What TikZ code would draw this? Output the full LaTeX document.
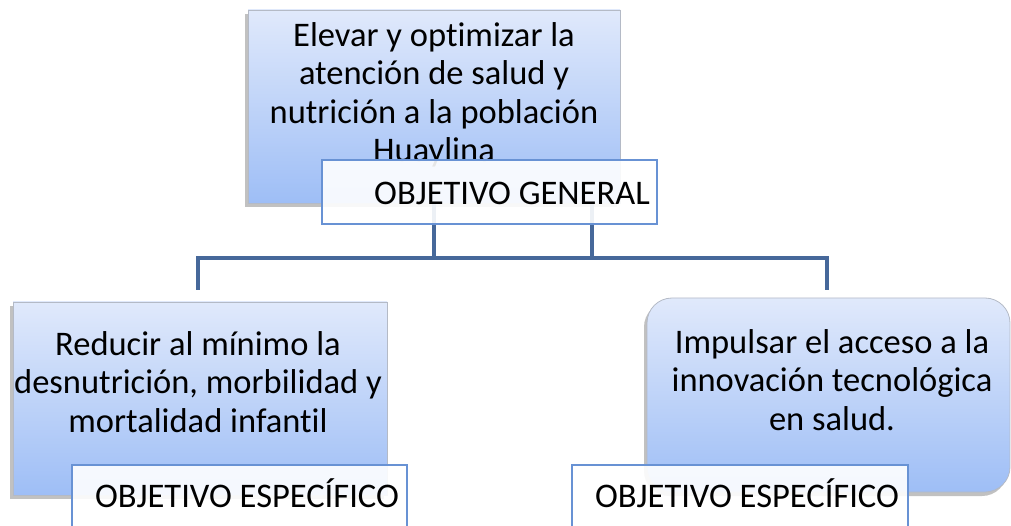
\documentclass[tikz,border=0pt]{standalone}
\usepackage{fontspec}
\setmainfont{Carlito}[Ligatures=NoCommon]
\usetikzlibrary{shadows,calc}
\definecolor{conncol}{RGB}{70,104,154}
\definecolor{gtop}{RGB}{224,233,251}
\definecolor{gbot}{RGB}{158,190,246}
\definecolor{gborder}{RGB}{180,186,198}
\definecolor{oeborder}{RGB}{104,146,212}
\tikzset{
  gbox/.style={draw=gborder, line width=0.8pt, top color=gtop, bottom color=gbot,
    minimum width=#1, inner sep=0pt,
    drop shadow={shadow xshift=-3pt, shadow yshift=-4pt, opacity=0.35, fill=black!70}},
  lbox/.style={draw=oeborder, line width=1.2pt, fill=white, fill opacity=0.9,
    inner sep=0pt, minimum width=#1, minimum height=64pt},
  conn/.style={draw=conncol, line width=4.5pt, line join=miter},
  txt/.style={font=\fontsize{34.5}{38.5}\selectfont, align=center, inner sep=0pt, anchor=base},
}
\begin{document}
\begin{tikzpicture}[x=1pt,y=-1pt]
\useasboundingbox (0,0) rectangle (1011,526);
% connectors
\coordinate (busL) at (198,258);
\coordinate (busR) at (827,258);
\coordinate (dL) at (198,290);
\coordinate (dR) at (827,290);
\node[gbox=372pt, minimum height=193pt] (top) at (434,106.5) {};
\draw[conn] (top.south) -- (top.south |- busL);
\draw[conn] ($(top.south)+(158,0)$) -- ($(top.south |- busL)+(158,0)$);
\draw[conn] (dL) -- (busL) -- (busR) -- (dR);
% top text
\node[txt] (toptxt) at (434,162) {Elevar y optimizar la\\atención de salud y\\nutrición a la población\\Huaylina};
\node[lbox=335pt] (og) at (489.5,192) {};
\node[txt] (ogtxt) at (512,205) {OBJETIVO GENERAL};
% left
\node[gbox=374pt, minimum height=193pt] (left) at (200,398.5) {};
\node[txt] (lefttxt) at (198,432) {Reducir al mínimo la\\desnutrición, morbilidad y\\mortalidad infantil};
\node[lbox=335pt] (oel) at (239.5,497) {};
\node[txt] (oeltxt) at (247,507) {OBJETIVO ESPECÍFICO};
% right
\node[gbox=363pt, minimum height=194pt, rounded corners=25pt] (right) at (828.5,395) {};
\node[txt] (righttxt) at (832,430) {Impulsar el acceso a la\\innovación tecnológica\\en salud.};
\node[lbox=336pt] (oer) at (740,497) {};
\node[txt] (oertxt) at (747,507) {OBJETIVO ESPECÍFICO};
\end{tikzpicture}
\end{document}
